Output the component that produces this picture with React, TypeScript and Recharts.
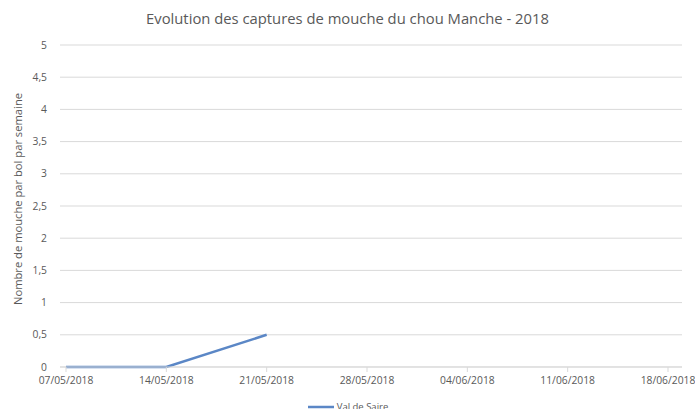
import { LineChart, Line, XAxis, YAxis, CartesianGrid } from 'recharts';

// ---------------------------------------------------------------------------
// Data
// ---------------------------------------------------------------------------

const dates = [
  '07/05/2018', '14/05/2018', '21/05/2018', '28/05/2018',
  '04/06/2018', '11/06/2018', '18/06/2018',
];
const valDeSaire: (number | null)[] = [0, 0, 0.5, null, null, null, null];
const yTicks = [0, 0.5, 1, 1.5, 2, 2.5, 3, 3.5, 4, 4.5, 5];

const chartData = dates.map((d, i) => ({ date: d, val: valDeSaire[i] }));

// ---------------------------------------------------------------------------
// Styles
// ---------------------------------------------------------------------------

const FONT = '"Open Sans", sans-serif';
const TEXT = '#595959';
const GRID = '#d9d9d9';
const BLUE = '#5b87c6';

export default function App() {
  return (
    <div style={{ position: 'fixed', top: 0, left: 0, width: 695, height: 409, background: '#fff', overflow: 'hidden' }}>
      <div style={{ position: 'absolute', top: 8, left: 0, width: 695, textAlign: 'center', fontFamily: FONT, fontSize: 14.8, color: TEXT }}>
        Evolution des captures de mouche du chou Manche - 2018
      </div>
      <LineChart
        width={695}
        height={409}
        data={chartData}
        margin={{ top: 45, right: 13, bottom: 12, left: 0 }}
      >
        <CartesianGrid vertical={false} stroke={GRID} strokeWidth={1} />
        <XAxis
          dataKey="date"
          interval={0}
          height={30}
          padding={{ left: 6, right: 14 }}
          axisLine={{ stroke: GRID }}
          tickLine={{ stroke: GRID }}
          tickSize={5}
          tick={{ fontSize: 10.3, fill: TEXT, fontFamily: FONT }}
          tickMargin={5}
        />
        <YAxis
          type="number"
          domain={[0, 5]}
          ticks={yTicks}
          interval={0}
          width={60}
          axisLine={false}
          tickLine={false}
          tickMargin={7}
          tickFormatter={(v: number) => String(v).replace('.', ',')}
          tick={{ fontSize: 10.3, fill: TEXT, fontFamily: FONT }}
          label={{
            value: 'Nombre de mouche par bol par semaine',
            angle: -90,
            position: 'insideLeft',
            offset: 18,
            dy: -7,
            style: { textAnchor: 'middle', fontSize: 11.2, fill: TEXT, fontFamily: FONT },
          }}
        />
        <Line
          type="linear"
          dataKey="val"
          stroke={BLUE}
          strokeWidth={2.5}
          dot={false}
          isAnimationActive={false}
        />
      </LineChart>
      <div style={{ position: 'absolute', top: 400, left: 0, width: 695, display: 'flex', justifyContent: 'center', alignItems: 'center', fontFamily: FONT, fontSize: 9.5, color: TEXT }}>
        <svg width={28} height={6} style={{ marginRight: 2 }}>
          <line x1={1} y1={3} x2={27} y2={3} stroke={BLUE} strokeWidth={2.5} />
        </svg>
        <span>Val de Saire</span>
      </div>
    </div>
  );
}
